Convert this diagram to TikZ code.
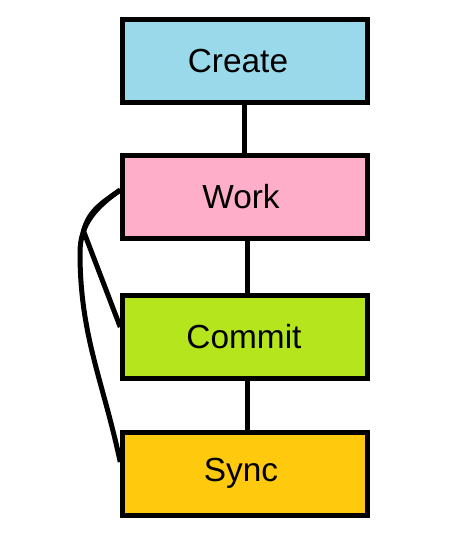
\documentclass[tikz,border=0pt]{standalone}
\usepackage{fontspec}
\setmainfont{Liberation Sans}
\usetikzlibrary{calc}
\definecolor{paleblue}{RGB}{153,217,234}
\definecolor{pink}{RGB}{255,174,201}
\definecolor{lime}{RGB}{181,230,29}
\definecolor{gold}{RGB}{255,201,14}

\begin{document}
\begin{tikzpicture}[color=black, line width=0.1cm,
  stage/.style={draw, rectangle, minimum width=4.89cm, minimum height=1.66cm, font=\fontsize{19}{23}\selectfont}]
\def\mid{4.9}

\useasboundingbox (0,0) rectangle (9.04,-10.96);

\node[stage, fill=paleblue] (create) at (\mid,-1.22) {\hspace*{-0.28cm}Create};
\node[stage, fill=pink] (work) at (\mid,-3.94) {\hspace*{-0.16cm}Work};
\node[stage, fill=lime] (commit) at (\mid,-6.74) {\hspace*{-0.04cm}Commit};
\node[stage, fill=gold] (sync) at (\mid,-9.47) {\hspace*{-0.16cm}Sync};

\coordinate (b1) at (1.67,-4.62);
\coordinate (b2) at (1.6,-5.05);

\draw ([xshift=-0.02cm]create.south) -- ([xshift=-0.02cm]work.north);
\draw ([xshift=0.05cm]work.south) -- ([xshift=0.05cm]commit.north);
\draw ([xshift=0.05cm]commit.south) -- ([xshift=0.05cm]sync.north);

% loops back to work
\draw ($(work.west)+(0,0.14)$)
      to[out=215,in=75] (b1)
      -- ($(commit.west)+(0,0.2)$);
\draw ($(work.west)+(0,0.14)$)
      to[out=215,in=90] (b2)
      to[out=270,in=102] ($(sync.west)+(0,0.23)$);

\end{tikzpicture}
\end{document}
